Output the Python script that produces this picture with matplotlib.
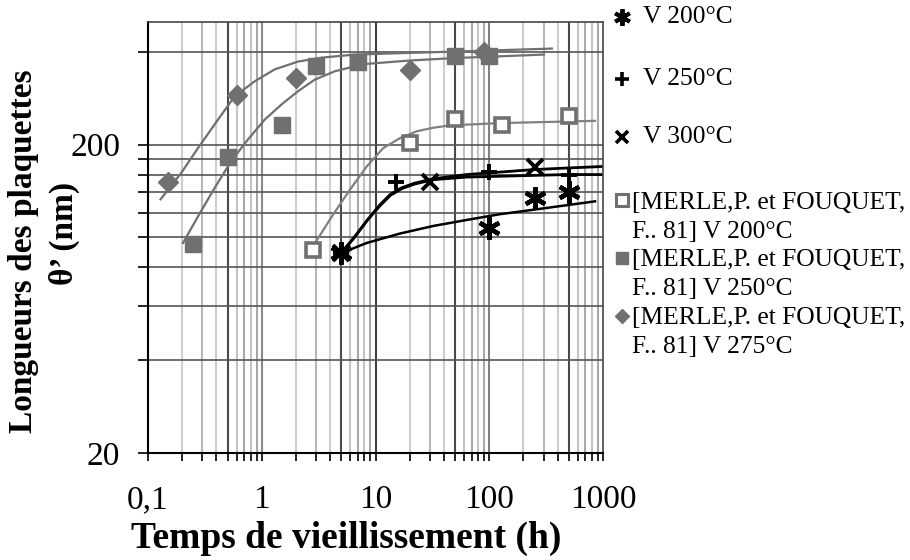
import numpy as np
import matplotlib
matplotlib.use("Agg")
import matplotlib.pyplot as plt
from matplotlib.lines import Line2D
from matplotlib.ticker import FixedLocator, NullFormatter

plt.rcParams['font.family'] = ['Liberation Serif', 'DejaVu Serif']

# experimental points (h, nm)
t_v200 = [5, 100, 250, 500]
l_v200 = [89, 107, 134, 140]
t_v250 = [5, 15, 100, 500]
l_v250 = [89, 151, 163, 160]
t_v300 = [5, 30, 250]
l_v300 = [89, 151, 169]

# MERLE & FOUQUET 81
t_m200 = [2.8, 20, 50, 130, 500]
l_m200 = [91, 203, 243, 231, 247]
t_m250 = [0.25, 0.5, 1.5, 3, 7, 50, 100]
l_m250 = [95, 183, 231, 361, 372, 389, 389]
t_m275 = [0.15, 0.6, 2, 20, 90]
l_m275 = [151, 290, 330, 350, 400]

# trend curves
fit_m275_t = [0.129, 0.196, 0.275, 0.386, 0.578, 0.867, 1.30, 2.08, 3.32, 6.56, 20, 80, 355]
fit_m275_l = [133, 162, 195, 233, 287, 321, 351, 372, 383, 392, 397, 403, 410]
fit_m250_t = [0.203, 0.275, 0.386, 0.540, 0.757, 1.06, 1.49, 2.08, 2.92, 4.38, 6.56, 8.59, 20, 50, 302]
fit_m250_l = [96, 117, 145, 177, 208, 241, 270, 298, 325, 346, 359, 366, 375, 382, 392]
fit_m200_t = [2.84, 4.26, 5.97, 8.37, 11.7, 16.4, 23.0, 32.2, 45.2, 124, 851]
fit_m200_l = [94, 119, 143, 170, 195, 210, 221, 227, 231, 235, 239]
fit_a_t = [5, 6.5, 8.5, 11, 13.5, 17, 22, 32, 63, 124, 243, 480, 1000]
fit_a_l = [89, 100, 114, 128, 138, 145, 150, 155, 160, 163, 166, 168, 170]
fit_b_t = [5, 6.5, 8.5, 11, 13.5, 17, 22, 32, 63, 124, 243, 480, 1000]
fit_b_l = [89, 100, 114, 127, 137, 144, 149, 154, 157, 158, 159, 160, 160]
fit_c_t = [5, 8.37, 16.4, 32.2, 63.4, 124, 243, 851]
fit_c_l = [89, 96, 103, 109, 114, 119, 123, 131]

x_ticks = [0.1, 1, 10, 100, 1000]
x_labels = ['0,1', '1', '10', '100', '1000']
y_ticks = [20, 40, 60, 80, 100, 120, 140, 160, 180, 200, 400]
y_labels = ['20', '', '', '', '', '', '', '', '', '200', '']

gray = '#707070'

fig = plt.figure(figsize=(9.1, 5.6), dpi=100)
ax = fig.add_axes([148 / 910, 107 / 560, 455 / 910, 431 / 560])
ax.set_xscale('log')
ax.set_yscale('log')
ax.set_xlim(0.1, 1000)
ax.set_ylim(20, 500)

# grid
minor_cols = {2: '#cdcdcd', 3: '#b8b8b8', 4: '#cdcdcd', 5: '#4a4a4a',
              6: '#c4c4c4', 7: '#aaaaaa', 8: '#c4c4c4', 9: '#a8a8a8'}
for dec in [0.1, 1, 10, 100]:
    for k in range(2, 10):
        ax.axvline(dec * k, color=minor_cols[k], lw=1.5, zorder=0)
for xv, c in [(1, '#8a8a8a'), (10, '#404040'), (100, '#808080')]:
    ax.axvline(xv, color=c, lw=1.5, zorder=0)
for yv in y_ticks[1:]:
    ax.axhline(yv, color='#555555', lw=1.2, zorder=0)

# curves
ax.plot(fit_m275_t, fit_m275_l, color=gray, lw=1.6, zorder=2)
ax.plot(fit_m250_t, fit_m250_l, color=gray, lw=1.6, zorder=2)
ax.plot(fit_m200_t, fit_m200_l, color='#808080', lw=1.6, zorder=2)
ax.plot(fit_a_t, fit_a_l, color='black', lw=2, zorder=2)
ax.plot(fit_b_t, fit_b_l, color='black', lw=2, zorder=2)
ax.plot(fit_c_t, fit_c_l, color='black', lw=1.8, zorder=2)

# points
ax.plot(t_m200, l_m200, ls='none', marker='s', ms=9.5, mfc='white', mec=gray, mew=2.6, zorder=3)
ax.plot(t_m250, l_m250, ls='none', marker='s', ms=11.5, mfc=gray, mec=gray, zorder=3)
ax.plot(t_m275, l_m275, ls='none', marker='D', ms=10, mfc=gray, mec=gray, zorder=3)
ax.plot(t_v200, l_v200, ls='none', marker=(6, 2, 0), ms=16, mec='black', mew=3.2, zorder=4)
ax.plot(t_v250, l_v250, ls='none', marker='+', ms=12, mec='black', mew=2.8, zorder=4)
ax.plot(t_v300, l_v300, ls='none', marker='x', ms=11, mec='black', mew=2.8, zorder=4)

ax.xaxis.set_major_locator(FixedLocator(x_ticks))
ax.set_xticklabels(x_labels)
minor_x = [d * k for d in [0.1, 1, 10, 100] for k in range(2, 10)]
ax.xaxis.set_minor_locator(FixedLocator(minor_x))
ax.xaxis.set_minor_formatter(NullFormatter())
ax.yaxis.set_major_locator(FixedLocator(y_ticks))
ax.set_yticklabels(y_labels)
ax.yaxis.set_minor_locator(FixedLocator([]))

ax.tick_params(axis='x', which='both', direction='out', length=6, width=1.2, labelsize=24, pad=17)
ax.tick_params(axis='y', which='both', direction='out', length=7, width=1.2, labelsize=24, pad=13)
for s in ['left', 'bottom']:
    ax.spines[s].set_linewidth(1.5)
    ax.spines[s].set_color('black')
for s in ['top', 'right']:
    ax.spines[s].set_linewidth(1.2)
    ax.spines[s].set_color('#444444')

fig.text(346 / 910, 1 - 538 / 560, 'Temps de vieillissement (h)', fontsize=27,
         fontweight='bold', ha='center', va='center')
fig.text(24 / 910, 1 - 251 / 560, 'Longueurs des plaquettes', fontsize=24,
         fontweight='bold', ha='center', va='center', rotation=90)
fig.text(64 / 910, 1 - 233 / 560, 'θ’ (nm)', fontsize=24,
         fontweight='bold', ha='center', va='center', rotation=90)

# legend drawn by hand
def leg_marker(y, **kw):
    fig.add_artist(Line2D([622 / 910], [1 - y / 560], transform=fig.transFigure, ls='none', **kw))

leg_marker(17, marker=(6, 2, 0), ms=12, mec='black', mew=2.8)
leg_marker(79, marker='+', ms=10, mec='black', mew=2.6)
leg_marker(137, marker='x', ms=8.5, mec='black', mew=2.6)
leg_marker(200, marker='s', ms=8, mfc='white', mec=gray, mew=2.2)
leg_marker(258, marker='s', ms=9, mfc=gray, mec=gray)
leg_marker(316, marker='D', ms=7, mfc=gray, mec=gray)

fs = 18.4
fig.text(643 / 910, 1 - 17 / 560, 'V 200°C', fontsize=fs, va='center')
fig.text(643 / 910, 1 - 79 / 560, 'V 250°C', fontsize=fs, va='center')
fig.text(643 / 910, 1 - 137 / 560, 'V 300°C', fontsize=fs, va='center')
for y0, lab in [(203, 'V 200°C'), (260, 'V 250°C'), (318, 'V 275°C')]:
    fig.text(632 / 910, 1 - y0 / 560, '[MERLE,P. et FOUQUET,', fontsize=fs, va='center')
    fig.text(632 / 910, 1 - (y0 + 29) / 560, 'F.. 81] ' + lab, fontsize=fs, va='center')

fig.savefig('out.png', dpi=100)
